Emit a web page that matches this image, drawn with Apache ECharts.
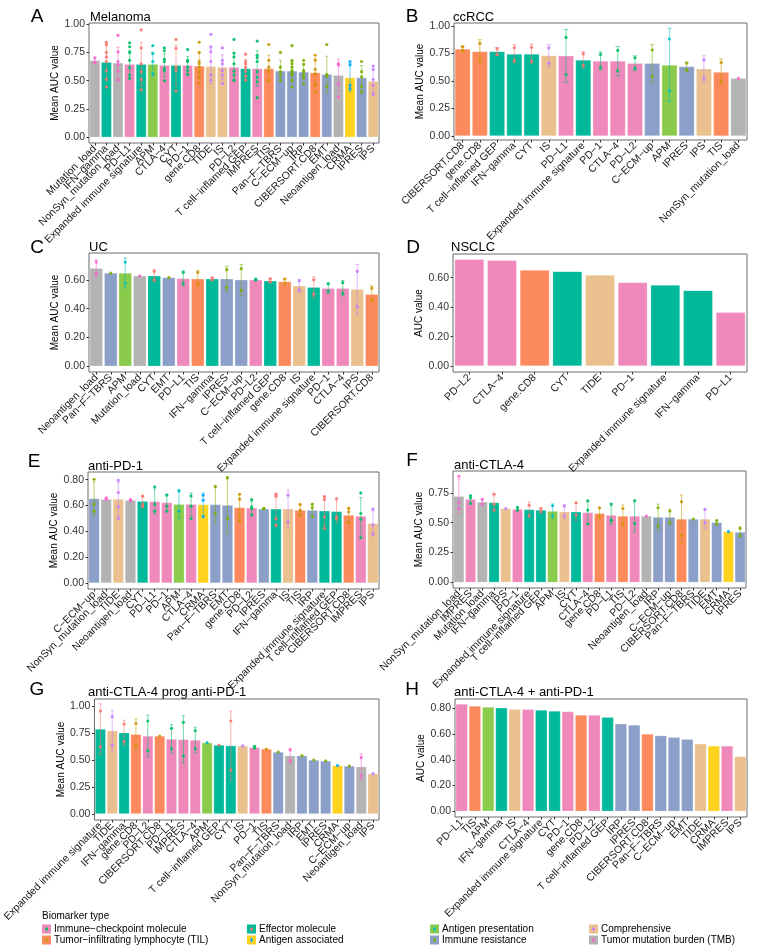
<!DOCTYPE html>
<html><head><meta charset="utf-8">
<script src="https://cdn.jsdelivr.net/npm/echarts@6/dist/echarts.min.js"></script>
<style>html,body{margin:0;padding:0;background:#fff}#c{width:761px;height:952px}</style>
</head><body><div id="c"></div>
<script>
// ---------- types & colours ----------
const typeNames = ['Immune−checkpoint molecule','Tumor−infiltrating lymphocyte (TIL)','Effector molecule','Antigen associated','Antigen presentation','Immune resistance','Comprehensive','Tumor mutation burden (TMB)'];
const typeFill  = ['#EF88BB','#FC8A5C','#00B89A','#FFD220','#8BCB4C','#8B9FC8','#EBC08F','#B3B3B3'];
const typePoint = ['#00BE67','#CD9600','#F8766D','#00A9FF','#00BFC4','#7CAE00','#C77CFF','#FF61CC'];
const typeOf = {
  'PD−L1':0,'PD−1':0,'PD−L2':0,'CTLA−4':0,'IMPRES':0,
  'gene.CD8':1,'CIBERSORT.CD8':1,'TIS':1,
  'IFN−gamma':2,'CYT':2,'Expanded immune signature':2,'T cell−inflamed GEP':2,
  'CRMA':3,'APM':4,
  'Pan−F−TBRS':5,'C−ECM−up':5,'IRP':5,'EMT':5,'IPRES':5,
  'TIDE':6,'IS':6,'IPS':6,
  'Mutation_load':7,'NonSyn_mutation_load':7,'Neoantigen_load':7
};

// ---------- A Melanoma ----------
const A_cats = ['Mutation_load','IFN−gamma','NonSyn_mutation_load','PD−L1','Expanded immune signature','APM','CTLA−4','CYT','PD−1','gene.CD8','TIDE','IS','PD−L2','T cell−inflamed GEP','IMPRES','TIS','Pan−F−TBRS','C−ECM−up','IRP','CIBERSORT.CD8','EMT','Neoantigen_load','CRMA','IPRES','IPS'];
const A_means = [0.681,0.664,0.658,0.646,0.646,0.646,0.637,0.637,0.637,0.631,0.628,0.62,0.62,0.608,0.608,0.608,0.587,0.587,0.578,0.572,0.557,0.549,0.528,0.528,0.496];
const A_points = [[0.70,0.66],[0.84,0.82,0.75,0.71,0.67,0.59,0.51,0.445],[0.90,0.755,0.67,0.64,0.585,0.505],[0.835,0.80,0.75,0.68,0.614,0.55,0.52],[0.95,0.79,0.65,0.58,0.51,0.42],[0.81,0.74,0.67,0.56],[0.79,0.765,0.69,0.67,0.61,0.59,0.50],[0.865,0.785,0.62,0.59,0.41],[0.775,0.68,0.67,0.62,0.59,0.555],[0.84,0.75,0.67,0.65,0.62,0.58,0.53,0.48],[0.91,0.80,0.755,0.67,0.55,0.505],[0.79,0.68,0.65,0.59,0.55,0.475],[0.865,0.745,0.71,0.65,0.585,0.55,0.505],[0.735,0.67,0.65,0.62,0.585,0.54,0.505],[0.85,0.725,0.705,0.67,0.58,0.53,0.49,0.35],[0.82,0.68,0.62,0.585,0.505],[0.75,0.62,0.58,0.55,0.505],[0.81,0.675,0.65,0.62,0.59,0.58,0.56,0.55,0.505,0.445],[0.68,0.645,0.59,0.58,0.55,0.53,0.475],[0.725,0.68,0.60,0.56,0.465,0.40],[0.82,0.557,0.54,0.45],[0.65,0.64,0.475,0.357],[0.67,0.64,0.46,0.43],[0.67,0.58,0.535,0.45,0.40],[0.63,0.60,0.51,0.46,0.38]];

// ---------- B ccRCC ----------
const B_cats = ['CIBERSORT.CD8','gene.CD8','T cell−inflamed GEP','IFN−gamma','CYT','IS','PD−L1','Expanded immune signature','PD−1','CTLA−4','PD−L2','C−ECM−up','APM','IPRES','IPS','TIS','NonSyn_mutation_load'];
const B_means = [0.79,0.767,0.767,0.745,0.745,0.73,0.727,0.69,0.68,0.68,0.66,0.66,0.645,0.63,0.61,0.58,0.524];
const B_points = [[0.81,0.776],[0.84,0.69],[0.79,0.74],[0.80,0.685],[0.805,0.68],[0.80,0.66],[0.894,0.557],[0.745,0.64],[0.74,0.624],[0.776,0.59],[0.71,0.615],[0.78,0.54],[0.88,0.41],[0.66,0.60],[0.69,0.524],[0.667,0.50],[0.524]];

// ---------- C UC ----------
const C_cats = ['Neoantigen_load','Pan−F−TBRS','APM','Mutation_load','CYT','EMT','PD−L1','TIS','IFN−gamma','IPRES','C−ECM−up','PD−L2','T cell−inflamed GEP','gene.CD8','IS','Expanded immune signature','PD−1','CTLA−4','IPS','CIBERSORT.CD8'];
const C_means = [0.681,0.647,0.647,0.628,0.628,0.616,0.609,0.607,0.607,0.607,0.60,0.60,0.593,0.588,0.558,0.549,0.542,0.542,0.535,0.50];
const C_points = [[0.723,0.642],[0.647],[0.723,0.577],[0.628],[0.658,0.60],[0.616],[0.651,0.577],[0.651,0.572],[0.614,0.60],[0.67,0.547],[0.677,0.526],[0.605,0.598],[0.607,0.586],[0.605,0.574],[0.593,0.53],[0.60,0.50],[0.572,0.521],[0.581,0.507],[0.658,0.414],[0.542,0.46]];

// ---------- D NSCLC ----------
const D_cats = ['PD−L2','CTLA−4','gene.CD8','CYT','TIDE','PD−1','Expanded immune signature','IFN−gamma','PD−L1'];
const D_values = [0.725,0.718,0.652,0.643,0.618,0.568,0.55,0.514,0.366];

// ---------- E anti-PD-1 ----------
const E_cats = ['C−ECM−up','NonSyn_mutation_load','TIDE','Neoantigen_load','CYT','PD−L1','PD−1','APM','CTLA−4','CRMA','Pan−F−TBRS','EMT','gene.CD8','PD−L2','IPRES','IFN−gamma','IS','TIS','IRP','Expanded immune signature','T cell−inflamed GEP','CIBERSORT.CD8','IMPRES','IPS'];
const E_means = [0.654,0.649,0.649,0.641,0.633,0.631,0.623,0.61,0.61,0.608,0.608,0.603,0.585,0.582,0.574,0.574,0.574,0.564,0.564,0.559,0.554,0.526,0.518,0.462];
const E_points = [[0.803,0.61,0.556],[0.66,0.646],[0.795,0.70,0.59,0.50],[0.646,0.636],[0.672,0.608,0.59],[0.744,0.61,0.556],[0.68,0.595,0.556],[0.713,0.556],[0.674,0.595,0.50],[0.68,0.641,0.513],[0.744,0.538],[0.813,0.50],[0.687,0.649,0.513,0.48],[0.646,0.59,0.577,0.526],[0.577,0.574],[0.687,0.672,0.50,0.444],[0.68,0.474],[0.608,0.564,0.526],[0.608,0.582,0.513],[0.667,0.646,0.513,0.423],[0.654,0.513,0.50],[0.577,0.551,0.467],[0.697,0.538,0.492,0.351],[0.572,0.449,0.38]];

// ---------- F anti-CTLA-4 ----------
const F_cats = ['NonSyn_mutation_load','IMPRES','Mutation_load','IFN−gamma','IPS','PD−1','Expanded immune signature','T cell−inflamed GEP','APM','IS','CYT','CTLA−4','gene.CD8','PD−L1','TIS','PD−L2','Neoantigen_load','IRP','C−ECM−up','CIBERSORT.CD8','Pan−F−TBRS','TIDE','EMT','CRMA','IPRES'];
const F_means = [0.722,0.697,0.675,0.669,0.619,0.614,0.611,0.606,0.597,0.592,0.592,0.586,0.578,0.564,0.556,0.556,0.556,0.547,0.547,0.531,0.531,0.531,0.503,0.425,0.422];
const F_points = [[0.889,0.667,0.619],[0.725,0.708,0.661],[0.694,0.656],[0.739,0.656,0.606],[0.619],[0.628,0.606],[0.647,0.558],[0.619,0.592],[0.642,0.556],[0.639,0.556],[0.667,0.564],[0.683,0.606,0.489],[0.625,0.556],[0.656,0.522,0.517],[0.619,0.489],[0.683,0.494],[0.556],[0.625,0.472],[0.597,0.503],[0.675,0.392],[0.531],[0.611,0.50],[0.517,0.489],[0.425],[0.453,0.392]];

// ---------- G anti-CTLA-4 prog anti-PD-1 ----------
const G_cats = ['Expanded immune signature','TIDE','IFN−gamma','gene.CD8','PD−L2','CIBERSORT.CD8','PD−L1','IMPRES','CTLA−4','APM','T cell−inflamed GEP','CYT','IS','PD−1','TIS','Pan−F−TBRS','NonSyn_mutation_load','IRP','EMT','IPRES','CRMA','C−ECM−up','Neoantigen_load','IPS'];
const G_means = [0.787,0.772,0.753,0.738,0.722,0.722,0.694,0.691,0.685,0.66,0.639,0.633,0.63,0.617,0.602,0.574,0.54,0.54,0.50,0.491,0.448,0.444,0.438,0.373];
const G_points = [[0.954,0.623],[0.901,0.639],[0.833,0.67],[0.84,0.639],[0.861,0.586],[0.722],[0.793,0.605],[0.849,0.537],[0.772,0.605],[0.66],[0.639],[0.861,0.407],[0.63],[0.627,0.612],[0.602],[0.574],[0.593,0.494],[0.54],[0.50],[0.491],[0.448],[0.444],[0.522,0.352],[0.373]];

// ---------- H anti-CTLA-4 + anti-PD-1 ----------
const H_cats = ['PD−L1','TIS','APM','IFN−gamma','IS','CTLA−4','Expanded immune signature','CYT','PD−1','gene.CD8','PD−L2','T cell−inflamed GEP','IRP','IPRES','CIBERSORT.CD8','Pan−F−TBRS','C−ECM−up','EMT','TIDE','CRMA','IMPRES','IPS'];
const H_values = [0.834,0.818,0.81,0.805,0.792,0.792,0.787,0.779,0.774,0.748,0.748,0.73,0.679,0.671,0.601,0.588,0.575,0.56,0.524,0.508,0.508,0.426];

// ---------- tick labels ----------
const ticks25 = [0, 0.25, 0.5, 0.75, 1.0];
const ticks25F = [0, 0.25, 0.5, 0.75];
const ticks20_3 = [0, 0.2, 0.4, 0.6];
const ticks20_4 = [0, 0.2, 0.4, 0.6, 0.8];

// ---------- layout ----------
const FONT = 'Liberation Sans, Arial, sans-serif';
const panels = [
  {letter:'A', title:'Melanoma', cats:A_cats, vals:A_means, pts:A_points, g:{left:89,top:23,width:290,height:120}, min:-0.05, max:1.01, ticks:ticks25, yname:'Mean AUC value', lx:37, ly:17, tx:90, ty:17},
  {letter:'B', title:'ccRCC', cats:B_cats, vals:B_means, pts:B_points, g:{left:454,top:23,width:293,height:117}, min:-0.036, max:1.025, ticks:ticks25, yname:'Mean AUC value', lx:412, ly:17, tx:453, ty:17},
  {letter:'C', title:'UC', cats:C_cats, vals:C_means, pts:C_points, g:{left:89,top:253,width:290,height:119}, min:-0.04, max:0.786, ticks:ticks20_3, yname:'Mean AUC value', lx:37, ly:248, tx:89, ty:247},
  {letter:'D', title:'NSCLC', cats:D_cats, vals:D_values, pts:null, g:{left:453,top:254,width:294,height:118}, min:-0.04, max:0.761, ticks:ticks20_3, yname:'AUC value', lx:413, ly:248, tx:451, ty:247},
  {letter:'E', title:'anti-PD-1', cats:E_cats, vals:E_means, pts:E_points, g:{left:88,top:472,width:291,height:117}, min:-0.046, max:0.859, ticks:ticks20_4, yname:'Mean AUC value', lx:34, ly:462, tx:88, ty:466},
  {letter:'F', title:'anti-CTLA-4', cats:F_cats, vals:F_means, pts:F_points, g:{left:453,top:471,width:293,height:117}, min:-0.047, max:0.933, ticks:ticks25F, yname:'Mean AUC value', lx:412, ly:461, tx:454, ty:465},
  {letter:'G', title:'anti-CTLA-4 prog anti-PD-1', cats:G_cats, vals:G_means, pts:G_points, g:{left:88,top:699,width:291,height:121}, min:-0.056, max:1.065, ticks:ticks25, yname:'Mean AUC value', lx:37, ly:690, tx:88, ty:692},
  {letter:'H', title:'anti-CTLA-4 + anti-PD-1', cats:H_cats, vals:H_values, pts:null, g:{left:455,top:699,width:292,height:118}, min:-0.044, max:0.872, ticks:ticks20_4, yname:'AUC value', lx:412, ly:690, tx:454, ty:692}
];

const grids = [], xAxes = [], yAxes = [], series = [], graphics = [];
panels.forEach((p, k) => {
  grids.push(Object.assign({show:true, borderColor:'#6a6a6a', borderWidth:1, backgroundColor:'#fff', containLabel:false}, p.g));
  xAxes.push({gridIndex:k, type:'category', data:p.cats,
    axisLine:{show:false, onZero:false},
    axisTick:{show:true, alignWithLabel:true, length:2.5, lineStyle:{color:'#333'}},
    axisLabel:{rotate:45, interval:0, fontSize:10.5, color:'#1a1a1a', margin:4, fontFamily:FONT}});
  yAxes.push({gridIndex:k, type:'value', min:p.min, max:p.max, name:p.yname, nameLocation:'middle', nameGap:27,
    nameTextStyle:{fontSize:10, color:'#000', fontFamily:FONT},
    axisLine:{show:false}, splitLine:{show:false},
    axisTick:{show:true, length:2.5, customValues:p.ticks, lineStyle:{color:'#333'}},
    axisLabel:{customValues:p.ticks, formatter:v=>Number(v).toFixed(2), fontSize:10.5, color:'#333', margin:4, fontFamily:FONT}});
  series.push({type:'bar', xAxisIndex:k, yAxisIndex:k, barCategoryGap:'10%', z:2,
    data:p.vals.map((v,i)=>({value:v, itemStyle:{color:typeFill[typeOf[p.cats[i]]], borderColor:'rgba(255,255,255,0.5)', borderWidth:0.5}}))});
  if (p.pts) {
    const errData = [];
    p.pts.forEach((arr,i) => {
      if (arr.length < 2) return;
      const mu = arr.reduce((a,b)=>a+b,0)/arr.length;
      const sd = Math.sqrt(arr.reduce((a,b)=>a+(b-mu)*(b-mu),0)/(arr.length-1));
      errData.push([i, p.vals[i]-sd, p.vals[i]+sd]);
    });
    const cats = p.cats;
    series.push({type:'custom', xAxisIndex:k, yAxisIndex:k, z:3, encode:{x:0, y:[1,2]}, data:errData,
      renderItem:(params, api) => {
        const i = api.value(0);
        const lo = api.coord([i, api.value(1)]);
        const hi = api.coord([i, api.value(2)]);
        const hw = api.size([1,0])[0]*0.13;
        const col = typePoint[typeOf[cats[i]]];
        const st = {stroke:col, lineWidth:1, opacity:0.55};
        return {type:'group', children:[
          {type:'line', shape:{x1:lo[0],y1:lo[1],x2:hi[0],y2:hi[1]}, style:st},
          {type:'line', shape:{x1:lo[0]-hw,y1:lo[1],x2:lo[0]+hw,y2:lo[1]}, style:st},
          {type:'line', shape:{x1:hi[0]-hw,y1:hi[1],x2:hi[0]+hw,y2:hi[1]}, style:st}
        ]};
      }});
    const ptData = [];
    p.pts.forEach((arr,i) => arr.forEach(v => ptData.push({value:[i, v], itemStyle:{color:typePoint[typeOf[p.cats[i]]]}})));
    series.push({type:'scatter', xAxisIndex:k, yAxisIndex:k, z:4, symbol:'circle', symbolSize:3.2, data:ptData, itemStyle:{opacity:0.9}});
  }
  graphics.push({type:'text', x:p.lx, y:p.ly, style:{text:p.letter, fontSize:19, fontFamily:FONT, fill:'#000', align:'center', verticalAlign:'middle'}});
  graphics.push({type:'text', x:p.tx, y:p.ty, style:{text:p.title, fontSize:13, fontFamily:FONT, fill:'#000', align:'left', verticalAlign:'middle'}});
});

// ---------- legend ----------
graphics.push({type:'text', x:42, y:916, style:{text:'Biomarker type', fontSize:10, fontFamily:FONT, fill:'#000', verticalAlign:'middle'}});
const legCols = [42, 247, 430, 589];
const legRows = [929, 940];
const legOrder = [[0,1],[2,3],[4,5],[6,7]];
legOrder.forEach((col, c) => col.forEach((t, r) => {
  const x = legCols[c], y = legRows[r];
  graphics.push({type:'rect', shape:{x:x, y:y-4.5, width:9, height:9}, style:{fill:typeFill[t]}});
  graphics.push({type:'line', shape:{x1:x+4.5, y1:y-3, x2:x+4.5, y2:y+3}, style:{stroke:typePoint[t], lineWidth:0.8, opacity:0.6}});
  graphics.push({type:'circle', shape:{cx:x+4.5, cy:y, r:1.5}, style:{fill:typePoint[t]}});
  graphics.push({type:'text', x:x+12, y:y, style:{text:typeNames[t], fontSize:10, fontFamily:FONT, fill:'#000', verticalAlign:'middle'}});
}));

const chart = echarts.init(document.getElementById('c'), null, {renderer:'canvas'});
chart.setOption({
  animation:false,
  backgroundColor:'#fff',
  textStyle:{fontFamily:FONT},
  grid:grids, xAxis:xAxes, yAxis:yAxes, series:series, graphic:graphics
});
</script>
</body></html>
